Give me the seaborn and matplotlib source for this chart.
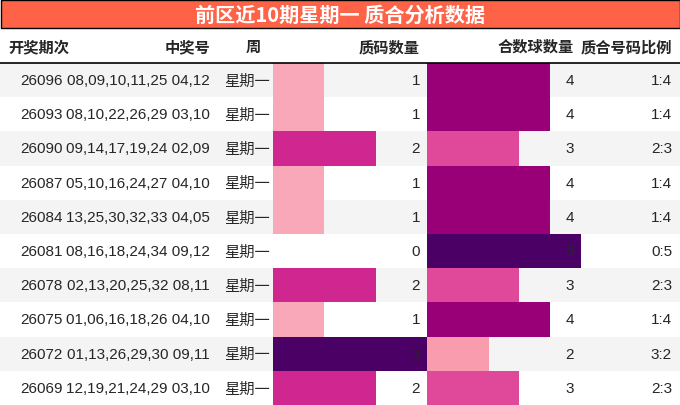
import matplotlib
matplotlib.use("Agg")
import matplotlib.pyplot as plt
import seaborn as sns

sns.set_style("white")
plt.rcParams['font.family'] = ['Liberation Sans Narrow', 'Liberation Sans', 'Noto Sans CJK SC', 'DejaVu Sans']

periods = ["26096", "26093", "26090", "26087", "26084", "26081", "26078", "26075", "26072", "26069"]
numbers = ["08,09,10,11,25 04,12", "08,10,22,26,29 03,10", "09,14,17,19,24 02,09",
           "05,10,16,24,27 04,10", "13,25,30,32,33 04,05", "08,16,18,24,34 09,12",
           "02,13,20,25,32 08,11", "01,06,16,18,26 04,10", "01,13,26,29,30 09,11",
           "12,19,21,24,29 03,10"]
weekday = "星期一"
prime_cnt = [1, 1, 2, 1, 1, 0, 2, 1, 3, 2]
comp_cnt = [4, 4, 3, 4, 4, 5, 3, 4, 2, 3]
headers = ["开奖期次", "中奖号", "周", "质码数量", "合数球数量", "质合号码比例"]
title = "前区近10期星期一 质合分析数据"

prime_col = {1: "#F8A8B8", 2: "#D0268F", 3: "#4B0066"}
comp_col = {2: "#F99CAE", 3: "#E0489A", 4: "#990077", 5: "#4B0066"}

fig = plt.figure(figsize=(6.8, 4.06), dpi=100)
ax = fig.add_axes([0, 0, 1, 1])
ax.set_xlim(0, 680)
ax.set_ylim(406, 0)
ax.axis("off")

# title bar
ax.add_patch(plt.Rectangle((0.5, 0.5), 679, 28.5, facecolor="#FF6347", edgecolor="black", lw=1))
ax.text(340, 15, title, color="white", fontsize=14.5, fontweight="bold", ha="center", va="center",
        family=['Noto Sans CJK SC', 'DejaVu Sans'])

# header
hy = 47
hx = [(8, "left"), (210, "right"), (253, "center"), (420, "right"), (574, "right"), (672, "right")]
for (x, ha), h in zip(hx, headers):
    ax.text(x, hy, h, fontsize=11, fontweight="bold", ha=ha, va="center",
            family=['Noto Sans CJK SC', 'DejaVu Sans'])
ax.plot([0, 680], [63.5, 63.5], color="black", lw=1.2)

top, rh = 64, 34.2
ys = [top + rh * (i + 0.5) for i in range(len(periods))]
for i, y in enumerate(ys):
    if i % 2 == 0:
        ax.add_patch(plt.Rectangle((0, y - rh / 2), 680, rh, facecolor="#F4F4F4", lw=0))

unit_p, unit_c = 51.3, 30.8
ax.barh(ys, [v * unit_p for v in prime_cnt], left=273, height=rh,
        color=[prime_col.get(v, "none") for v in prime_cnt], lw=0)
ax.barh(ys, [v * unit_c for v in comp_cnt], left=427, height=rh,
        color=[comp_col[v] for v in comp_cnt], lw=0)

for i, y in enumerate(ys):
    ax.text(63, y, periods[i], fontsize=11, ha="right", va="center")
    ax.text(210, y, numbers[i], fontsize=11, ha="right", va="center")
    ax.text(247, y, weekday, fontsize=11, ha="center", va="center",
            family=['Noto Sans CJK SC', 'DejaVu Sans'])
    ax.text(420, y, str(prime_cnt[i]), fontsize=11, ha="right", va="center")
    ax.text(574, y, str(comp_cnt[i]), fontsize=11, ha="right", va="center")
    ax.text(672, y, f"{prime_cnt[i]}:{comp_cnt[i]}", fontsize=11, ha="right", va="center")

fig.savefig("out.png", dpi=100)
